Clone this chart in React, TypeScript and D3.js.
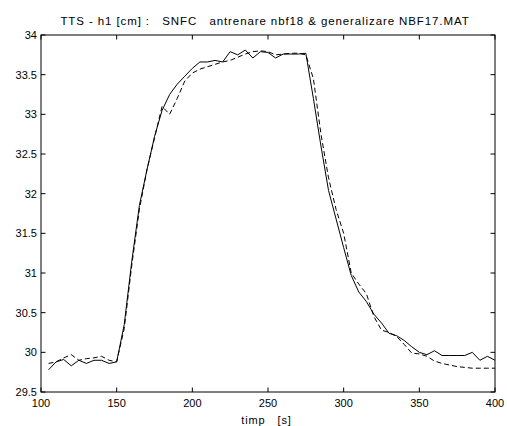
import * as d3 from "d3";
import { useRef, useEffect } from "react";

// sample times (s)
const timp = d3.range(105, 401, 5);

// solid: measured level h1 [cm]
const h1Real = [
  29.78, 29.88, 29.91, 29.83, 29.9, 29.86, 29.9, 29.9, 29.86, 29.88,
  30.35, 31.15, 31.85, 32.3, 32.72, 33.05, 33.25, 33.38, 33.48, 33.58,
  33.66, 33.66, 33.68, 33.66, 33.79, 33.75, 33.81, 33.71, 33.79, 33.78,
  33.71, 33.76, 33.76, 33.76, 33.77, 33.2, 32.6, 32.04, 31.68, 31.32,
  30.97, 30.76, 30.64, 30.48, 30.37, 30.24, 30.21, 30.15, 30.07, 30.0,
  29.97, 30.02, 29.96, 29.96, 29.96, 29.96, 30.0, 29.9, 29.95, 29.9,
];

// dashed: SNFC model output
const h1Model = [
  29.86, 29.88, 29.93, 29.97, 29.9, 29.92, 29.93, 29.95, 29.9, 29.88,
  30.3, 31.1, 31.8, 32.3, 32.7, 33.1, 33.0, 33.2, 33.42, 33.52,
  33.57, 33.6, 33.63, 33.66, 33.68, 33.72, 33.76, 33.79, 33.8, 33.79,
  33.75, 33.76, 33.77, 33.77, 33.75, 33.45, 32.75, 32.2, 31.8, 31.5,
  31.0, 30.86, 30.74, 30.45, 30.28, 30.25, 30.2, 30.1, 29.99, 29.98,
  29.95, 29.89, 29.86, 29.84, 29.82, 29.81, 29.8, 29.8, 29.8, 29.8,
];

const xTicks = [100, 150, 200, 250, 300, 350, 400];
const yTicks = [29.5, 30, 30.5, 31, 31.5, 32, 32.5, 33, 33.5, 34];

const title = "TTS - h1 [cm] :   SNFC   antrenare nbf18 & generalizare NBF17.MAT";
const xLabel = "timp   [s]";

export default function App() {
  const width = 507;
  const height = 426;
  const left = 41;
  const right = 495;
  const top = 35;
  const bottom = 392;
  const tick = 4.5;

  const x = d3.scaleLinear([100, 400], [left, right]);
  const y = d3.scaleLinear([29.5, 34], [bottom, top]);

  const line = d3
    .line<number>()
    .x((d, i) => x(timp[i]))
    .y((d) => y(d));

  const font = "'Liberation Sans', Arial, sans-serif";

  return (
    <svg
      width={width}
      height={height}
      style={{ position: "absolute", left: 0, top: 0, background: "#fff" }}
      fontFamily={font}
      fontSize={11}
    >
      {/* Title */}
      <text
        x={265}
        y={25}
        textAnchor="middle"
        fontSize={11.5}
        letterSpacing={0.9}
        style={{ whiteSpace: "pre" }}
      >
        {title}
      </text>
      {/* Box */}
      <rect x={left} y={top} width={right - left} height={bottom - top} fill="none" stroke="#000" />
      {/* X ticks */}
      {xTicks.map((t) => (
        <g key={"x" + t}>
          <line x1={x(t)} x2={x(t)} y1={bottom} y2={bottom - tick} stroke="#000" />
          <line x1={x(t)} x2={x(t)} y1={top} y2={top + tick} stroke="#000" />
          <text x={x(t)} y={407} textAnchor="middle">{t}</text>
        </g>
      ))}
      {/* Y ticks */}
      {yTicks.map((t) => (
        <g key={"y" + t}>
          <line x1={left} x2={left + tick} y1={y(t)} y2={y(t)} stroke="#000" />
          <line x1={right} x2={right - tick} y1={y(t)} y2={y(t)} stroke="#000" />
          <text x={37} y={y(t)} dy="0.35em" textAnchor="end">{t}</text>
        </g>
      ))}
      {/* Model (dashed) */}
      <path d={line(h1Model) ?? ""} fill="none" stroke="#000" strokeWidth={1} strokeDasharray="5,3" />
      {/* Measured (solid) */}
      <path d={line(h1Real) ?? ""} fill="none" stroke="#000" strokeWidth={1} />
      {/* X label */}
      <text
        x={266.5}
        y={424}
        textAnchor="middle"
        letterSpacing={0.9}
        style={{ whiteSpace: "pre" }}
      >
        {xLabel}
      </text>
    </svg>
  );
}
